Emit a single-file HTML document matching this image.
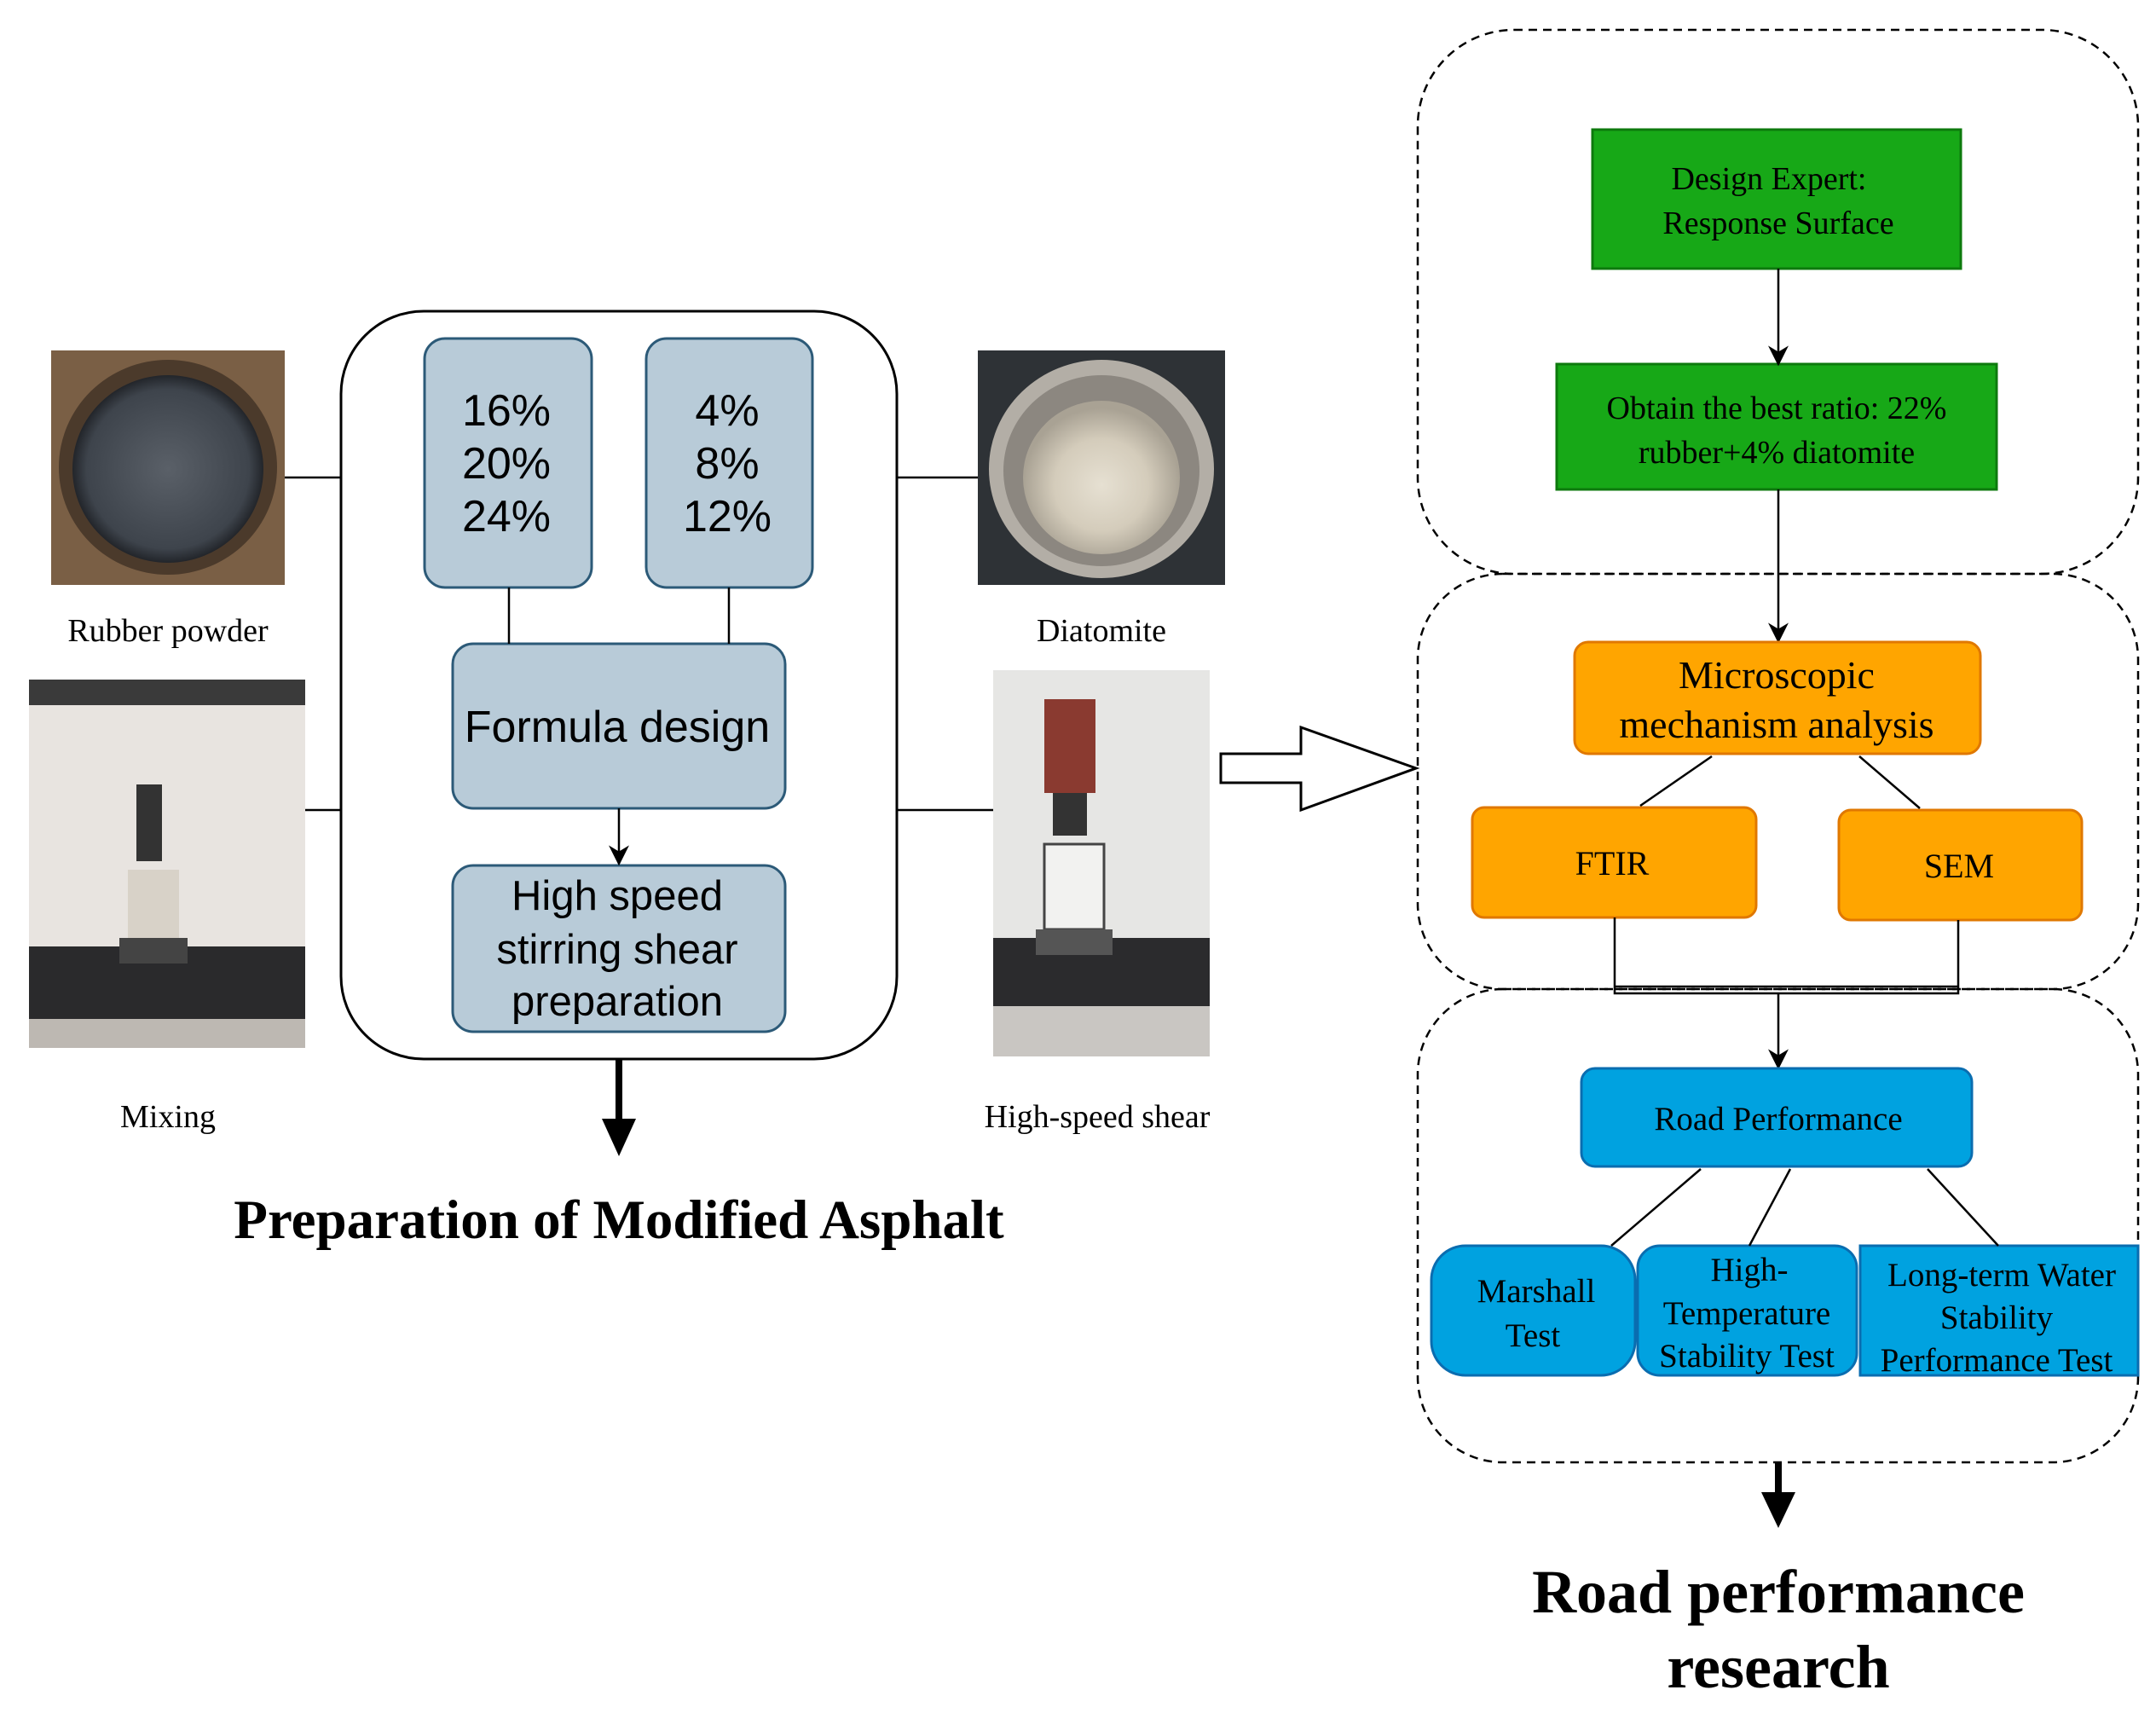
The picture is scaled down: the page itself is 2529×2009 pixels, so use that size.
<!DOCTYPE html>
<html><head><meta charset="utf-8"><style>
html,body{margin:0;padding:0;background:#fff;}
svg{display:block}
.s{font-family:"Liberation Serif",serif;}
.a{font-family:"Liberation Sans",sans-serif;}
</style></head><body>
<svg width="2529" height="2009" viewBox="0 0 2529 2009" xmlns="http://www.w3.org/2000/svg">
<defs>
<radialGradient id="rub" cx="50%" cy="50%" r="50%"><stop offset="0" stop-color="#5a6068"/><stop offset="0.85" stop-color="#3e444c"/><stop offset="1" stop-color="#22252a"/></radialGradient>
<radialGradient id="dia" cx="50%" cy="55%" r="50%"><stop offset="0" stop-color="#e6e0d2"/><stop offset="0.6" stop-color="#d4ccbb"/><stop offset="1" stop-color="#a9a294"/></radialGradient>
<marker id="ah2" viewBox="0 0 10 10" refX="9" refY="5" markerWidth="24" markerHeight="24" markerUnits="userSpaceOnUse" orient="auto"><path d="M0,0 L10,5 L0,10 L3,5 z" fill="#000"/></marker>
</defs>
<rect x="60" y="411" width="274" height="275" fill="#7a5f45"/>
<ellipse cx="197" cy="548" rx="128" ry="126" fill="#4b3a2b"/>
<ellipse cx="197" cy="550" rx="112" ry="110" fill="url(#rub)"/>
<text class="s" x="197" y="752" font-size="38" text-anchor="middle">Rubber powder</text>

<rect x="34" y="797" width="324" height="432" fill="#e8e4e0"/>
<rect x="34" y="797" width="324" height="30" fill="#3a3a3a"/>
<rect x="34" y="1110" width="324" height="119" fill="#2a2a2c"/>
<rect x="34" y="1195" width="324" height="34" fill="#bdb8b2"/>
<rect x="150" y="1020" width="60" height="85" fill="#d8d2c8"/>
<rect x="160" y="920" width="30" height="90" fill="#333"/>
<rect x="140" y="1100" width="80" height="30" fill="#444"/>
<text class="s" x="197" y="1322" font-size="38" text-anchor="middle">Mixing</text>

<rect x="1147" y="411" width="290" height="275" fill="#2e3236"/>
<ellipse cx="1292" cy="550" rx="132" ry="128" fill="#b3aea6"/>
<ellipse cx="1292" cy="552" rx="115" ry="112" fill="#8c8780"/>
<ellipse cx="1292" cy="560" rx="92" ry="90" fill="url(#dia)"/>
<text class="s" x="1292" y="752" font-size="38" text-anchor="middle">Diatomite</text>

<rect x="1165" y="786" width="254" height="453" fill="#e6e6e4"/>
<rect x="1165" y="1100" width="254" height="139" fill="#2b2b2d"/>
<rect x="1165" y="1180" width="254" height="59" fill="#c9c6c2"/>
<rect x="1225" y="820" width="60" height="110" fill="#8a3a30"/>
<rect x="1235" y="930" width="40" height="50" fill="#333"/>
<rect x="1225" y="990" width="70" height="100" fill="#f2f2f0" stroke="#444" stroke-width="3"/>
<rect x="1215" y="1090" width="90" height="30" fill="#555"/>
<text class="s" x="1287" y="1322" font-size="38" text-anchor="middle">High-speed shear</text>

<rect x="400" y="365" width="652" height="877" rx="97" fill="none" stroke="#000" stroke-width="3"/>
<line x1="334" y1="560" x2="400" y2="560" stroke="#000" stroke-width="2.5"/>
<line x1="358" y1="950" x2="400" y2="950" stroke="#000" stroke-width="2.5"/>
<line x1="1052" y1="560" x2="1147" y2="560" stroke="#000" stroke-width="2.5"/>
<line x1="1052" y1="950" x2="1165" y2="950" stroke="#000" stroke-width="2.5"/>

<g fill="#b8cbd8" stroke="#2c5a78" stroke-width="3">
<rect x="498" y="397" width="196" height="292" rx="24"/>
<rect x="758" y="397" width="195" height="292" rx="24"/>
<rect x="531" y="755" width="390" height="193" rx="24"/>
<rect x="531" y="1015" width="390" height="195" rx="24"/>
</g>
<line x1="597" y1="689" x2="597" y2="755" stroke="#000" stroke-width="2.5"/>
<line x1="855" y1="689" x2="855" y2="755" stroke="#000" stroke-width="2.5"/>
<line x1="726" y1="948" x2="726" y2="1013" stroke="#000" stroke-width="2.5" marker-end="url(#ah2)"/>
<g class="a" font-size="52" text-anchor="middle" fill="#000">
<text x="594" y="499">16%</text><text x="594" y="561">20%</text><text x="594" y="623">24%</text>
<text x="853" y="499">4%</text><text x="853" y="561">8%</text><text x="853" y="623">12%</text>
<text x="724" y="870">Formula design</text>
</g>
<g class="a" font-size="49" text-anchor="middle">
<text x="724" y="1067">High speed</text><text x="724" y="1130">stirring shear</text><text x="724" y="1191">preparation</text>
</g>
<line x1="726" y1="1242" x2="726" y2="1330" stroke="#000" stroke-width="8"/>
<path d="M726,1356 L706,1312 L746,1312 z" fill="#000"/>
<text class="s" x="726" y="1452" font-size="65" font-weight="bold" text-anchor="middle">Preparation of Modified Asphalt</text>

<path d="M1432,884 L1526,884 L1526,853 L1661,901 L1526,950 L1526,918 L1432,918 z" fill="#fff" stroke="#000" stroke-width="3"/>

<g fill="none" stroke="#000" stroke-width="2.5" stroke-dasharray="10,7">
<rect x="1663" y="35" width="845" height="638" rx="113"/>
<rect x="1663" y="673" width="845" height="487" rx="100"/>
<rect x="1663" y="1160" width="845" height="555" rx="100"/>
</g>

<g fill="#17a817" stroke="#0d7a0d" stroke-width="3">
<rect x="1868" y="152" width="432" height="163"/>
<rect x="1826" y="427" width="516" height="147"/>
</g>
<g class="s" font-size="38" text-anchor="middle">
<text x="2075" y="222">Design Expert:</text><text x="2086" y="274">Response  Surface</text>
<text x="2084" y="491">Obtain the best ratio: 22%</text><text x="2084" y="543">rubber+4% diatomite</text>
</g>
<line x1="2086" y1="315" x2="2086" y2="427" stroke="#000" stroke-width="2.5" marker-end="url(#ah2)"/>
<line x1="2086" y1="574" x2="2086" y2="752" stroke="#000" stroke-width="2.5" marker-end="url(#ah2)"/>

<g fill="#ffa500" stroke="#e07800" stroke-width="3">
<rect x="1847" y="753" width="476" height="131" rx="16"/>
<rect x="1727" y="947" width="333" height="129" rx="14"/>
<rect x="2157" y="950" width="285" height="129" rx="14"/>
</g>
<g class="s" text-anchor="middle">
<text x="2084" y="807" font-size="46">Microscopic</text><text x="2084" y="865" font-size="46">mechanism analysis</text>
<text x="1891" y="1026" font-size="40">FTIR</text><text x="2298" y="1029" font-size="40">SEM</text>
</g>
<g stroke="#000" stroke-width="2.5" fill="none">
<line x1="2008" y1="887" x2="1924" y2="945"/>
<line x1="2181" y1="887" x2="2252" y2="948"/>
<polyline points="1894,1076 1894,1165 2297,1165 2297,1079"/>
<line x1="1894" y1="1157" x2="2297" y2="1157"/>
</g>
<line x1="2086" y1="1165" x2="2086" y2="1252" stroke="#000" stroke-width="2.5" marker-end="url(#ah2)"/>

<g fill="#00a2e0" stroke="#0a6db0" stroke-width="3">
<rect x="1855" y="1253" width="458" height="115" rx="16"/>
<rect x="1679" y="1461" width="239" height="152" rx="40"/>
<rect x="1921" y="1461" width="257" height="152" rx="26"/>
<rect x="2182" y="1461" width="326" height="152"/>
</g>
<g stroke="#000" stroke-width="2.5">
<line x1="1995" y1="1371" x2="1890" y2="1461"/>
<line x1="2100" y1="1371" x2="2052" y2="1461"/>
<line x1="2261" y1="1371" x2="2344" y2="1461"/>
</g>
<g class="s" font-size="39" text-anchor="middle">
<text x="2086" y="1325">Road Performance</text>
<text x="1802" y="1527">Marshall</text><text x="1798" y="1579">Test</text>
<text x="2052" y="1502">High-</text><text x="2049" y="1553">Temperature</text><text x="2049" y="1603">Stability Test</text>
<text x="2348" y="1508">Long-term Water</text><text x="2342" y="1558">Stability</text><text x="2342" y="1608">Performance Test</text>
</g>
<line x1="2086" y1="1715" x2="2086" y2="1770" stroke="#000" stroke-width="8"/>
<path d="M2086,1792 L2066,1750 L2106,1750 z" fill="#000"/>
<g class="s" font-size="72" font-weight="bold" text-anchor="middle">
<text x="2086" y="1891">Road performance</text><text x="2086" y="1979">research</text>
</g>
</svg>
</body></html>
